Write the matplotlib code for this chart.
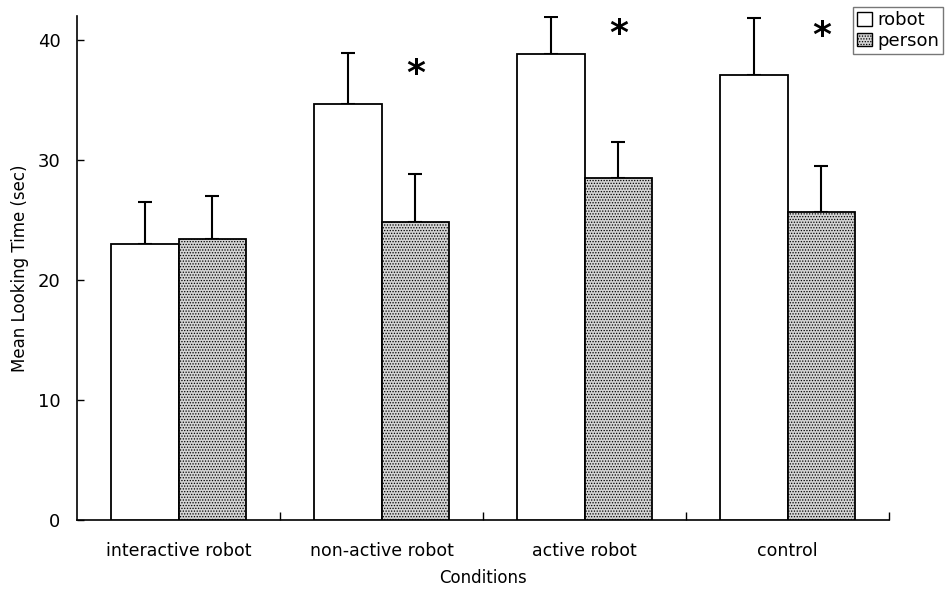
import matplotlib
matplotlib.use("Agg")
import matplotlib.pyplot as plt
import numpy as np
from matplotlib.patches import Patch

plt.rcParams['font.family'] = ['DejaVu Sans']
plt.rcParams['hatch.linewidth'] = 0.6

categories = ["interactive robot", "non-active robot", "active robot", "control"]
robot = [23.0, 34.7, 38.8, 37.1]
robot_err = [3.5, 4.2, 3.1, 4.7]
person = [23.4, 24.8, 28.5, 25.7]
person_err = [3.6, 4.0, 3.0, 3.8]
significant = [False, True, True, True]
star_y = [0, 37.2, 40.5, 40.3]
yticks = [0, 10, 20, 30, 40]

fig = plt.figure(figsize=(9.47, 5.91), dpi=100)
ax = fig.add_axes([77/947, 71/591, (889-77)/947, (520-16)/591])

x = np.arange(len(categories))
w = 1/3
ax.bar(x - w/2, robot, w, color='white', edgecolor='black', linewidth=1.3, zorder=3)
ax.bar(x + w/2, person, w, color='#d4d4d4', edgecolor='black', linewidth=1.3,
       hatch='......', zorder=3)
ax.errorbar(x - w/2, robot, yerr=[np.zeros(4), robot_err], fmt='none', ecolor='black',
            elinewidth=1.5, capsize=5, capthick=1.5, zorder=2)
ax.errorbar(x + w/2, person, yerr=[np.zeros(4), person_err], fmt='none', ecolor='black',
            elinewidth=1.5, capsize=5, capthick=1.5, zorder=2)

for i, s in enumerate(significant):
    if s:
        ax.text(x[i] + w/2, star_y[i], '*', ha='center', va='center', fontsize=26,
                fontweight='bold')

ax.set_xlim(-0.5, 3.5)
ax.set_ylim(0, 42)
ax.set_yticks(yticks)
ax.set_yticklabels([str(t) for t in yticks], fontsize=13)
ax.set_xticks(x)
ax.set_xticklabels(categories, fontsize=12.5)
ax.tick_params(axis='x', length=0, pad=16)
ax.set_xticks(np.arange(0.5, 4.0, 1.0), minor=True)
ax.tick_params(axis='x', which='minor', direction='in', length=6, width=1)
ax.tick_params(axis='y', direction='in', length=5, width=1, pad=12)
ax.spines['top'].set_visible(False)
ax.spines['right'].set_visible(False)
ax.spines['left'].set_linewidth(1.2)
ax.spines['bottom'].set_linewidth(1.2)
ax.set_ylabel('Mean Looking Time (sec)', fontsize=12, labelpad=6)
ax.set_xlabel('Conditions', fontsize=12, labelpad=6)

handles = [Patch(facecolor='white', edgecolor='black', label='robot'),
           Patch(facecolor='#d4d4d4', edgecolor='black', hatch='......', label='person')]
fig.legend(handles=handles, loc='upper right', bbox_to_anchor=(1.0, 0.995),
           fontsize=13, frameon=True, fancybox=False, edgecolor='#555555',
           handlelength=0.8, handleheight=0.8, handletextpad=0.3, borderpad=0.25,
           labelspacing=0.15, borderaxespad=0.2)

fig.savefig('out.png', dpi=100)
